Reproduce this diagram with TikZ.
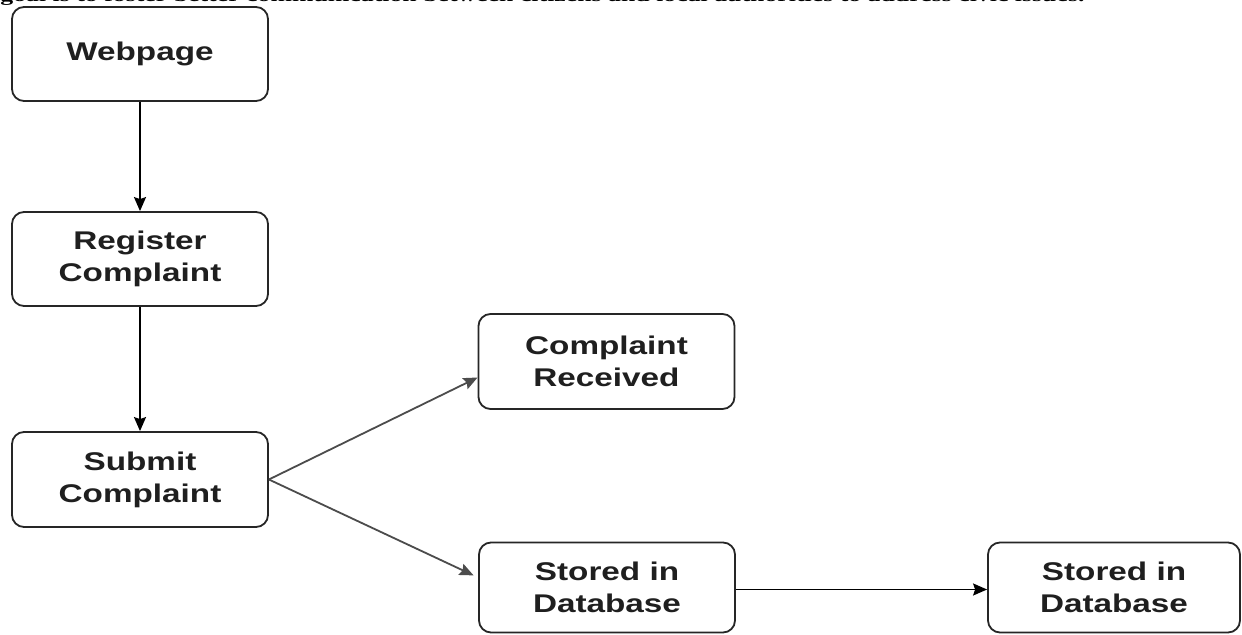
\documentclass[tikz,border=0pt]{standalone}
\usepackage{fontspec}
\setmainfont{Liberation Sans}[FakeStretch=1.3]
\newfontfamily\topfont{Liberation Serif}[FakeStretch=1.3]
\usetikzlibrary{arrows.meta}
\begin{document}
\begin{tikzpicture}[x=0.5pt,y=-0.5pt,
  flowbox/.style={draw=black!85, line width=0.9pt, rounded corners=6pt,
    minimum width=128pt, minimum height=47pt, inner sep=0pt,
    align=center, text=black!88,
    font=\fontsize{12.8}{16}\selectfont\bfseries},
  link/.style={line width=0.9pt, draw=black, -{Stealth[length=7pt,width=6pt,inset=1pt]}},
  glink/.style={link, draw=black!70, fill=black!70}]
\useasboundingbox (0,0) rectangle (1242,635);
\clip (0,0) rectangle (1242,635);
\fill[white] (0,0) rectangle (1242,635);
\node[anchor=base west, inner sep=0pt] (caption) at (0,2)
  {\resizebox{542pt}{6.3pt}{\topfont\bfseries goal is to foster better communication between citizens and local authorities to address civic issues.}};
\node[flowbox] (web) at (140,54) {Webpage};
\node[flowbox] (reg) at (140,259) {\raisebox{0pt}{Register}\\Complaint};
\node[flowbox, minimum height=47.5pt] (sub) at (140,479.5) {Submit\\Complaint};
\node[flowbox, minimum height=47.5pt] (rec) at (606.5,361.5) {Complaint\\Received};
\node[flowbox, minimum height=45pt] (db1) at (607,587.5) {Stored in\\Database};
\node[flowbox, minimum width=126pt, minimum height=45pt] (db2) at (1114,587.5) {Stored in\\Database};
\draw[link] (web.south) -- (reg.north);
\draw[link] (reg.south) -- (sub.north);
\draw[glink] (sub.east) -- ([yshift=-8pt]rec.west);
\draw[glink, shorten >=2.5pt] (sub.east) -- ([yshift=5pt]db1.west);
\draw[link] ([yshift=-1pt]db1.east) -- ([yshift=-1pt]db2.west);
\end{tikzpicture}
\end{document}
